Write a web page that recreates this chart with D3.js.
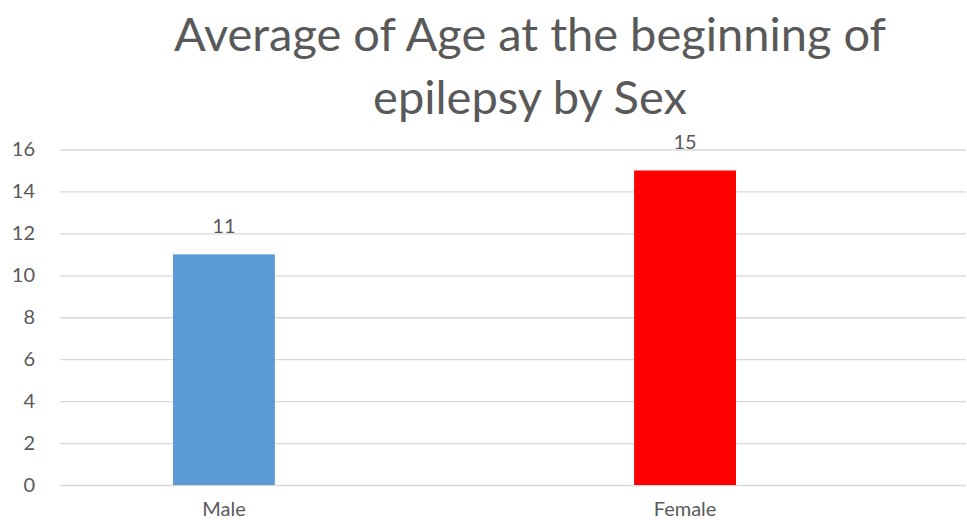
<!DOCTYPE html>
<html>
<head>
<meta charset="utf-8">
<script src="https://cdn.jsdelivr.net/npm/d3@7"></script>
<style>
  html, body { margin: 0; padding: 0; background: #fff; }
  svg text { font-family: Lato, "Open Sans", sans-serif; fill: #595959; }
</style>
</head>
<body>
<div id="chart"></div>
<script>
const categories = ["Male", "Female"];
const values = [11, 15];
const barColors = ["#5b9bd5", "#ff0000"];
const yTicks = [0, 2, 4, 6, 8, 10, 12, 14, 16];
const titleLines = ["Average of Age at the beginning of", "epilepsy by Sex"];

const svgWidth = 967;
const svgHeight = 520;
const margin = { top: 149.5, right: 1, bottom: 35, left: 60 };
const chartHeight = svgHeight - margin.top - margin.bottom;
const chartWidth = svgWidth - margin.left - margin.right;

const svg = d3.select("#chart")
  .append("svg")
  .attr("width", svgWidth)
  .attr("height", svgHeight);

// title
svg.append("g")
  .selectAll("text")
  .data(titleLines)
  .join("text")
  .attr("x", 530)
  .attr("y", (d, i) => 51 + i * 63)
  .attr("text-anchor", "middle")
  .style("font-size", "47px")
  .text(d => d);

const g = svg.append("g")
  .attr("transform", `translate(${margin.left},${margin.top})`);

const y = d3.scaleLinear()
  .domain([0, 16])
  .range([chartHeight, 0]);

// bars sit off-centre in the plot, as in the original
const x = d3.scaleBand()
  .domain(categories)
  .range([113, 676])
  .paddingInner(0.779)
  .paddingOuter(0);

// gridlines + y labels
const yAxis = g.append("g")
  .call(d3.axisLeft(y).tickValues(yTicks).tickSize(-chartWidth).tickPadding(25));
yAxis.select(".domain").remove();
yAxis.selectAll(".tick line").attr("stroke", "#d9d9d9").attr("stroke-width", 1.3);
yAxis.selectAll(".tick text")
  .style("font-size", "20px")
  .attr("fill", "#595959");

g.selectAll("rect.bar")
  .data(values)
  .join("rect")
  .attr("class", "bar")
  .attr("x", (d, i) => x(categories[i]))
  .attr("y", d => y(d))
  .attr("width", x.bandwidth())
  .attr("height", d => chartHeight - y(d))
  .attr("fill", (d, i) => barColors[i]);

// data labels
g.selectAll("text.val")
  .data(values)
  .join("text")
  .attr("class", "val")
  .attr("x", (d, i) => x(categories[i]) + x.bandwidth() / 2)
  .attr("y", d => y(d) - 21)
  .attr("text-anchor", "middle")
  .style("font-size", "20px")
  .text(d => d);

// category labels
const xAxis = g.append("g")
  .attr("transform", `translate(0,${chartHeight})`)
  .call(d3.axisBottom(x).tickSize(0).tickPadding(17));
xAxis.select(".domain").remove();
xAxis.selectAll(".tick text")
  .style("font-size", "20px")
  .attr("fill", "#595959");
</script>
</body>
</html>
